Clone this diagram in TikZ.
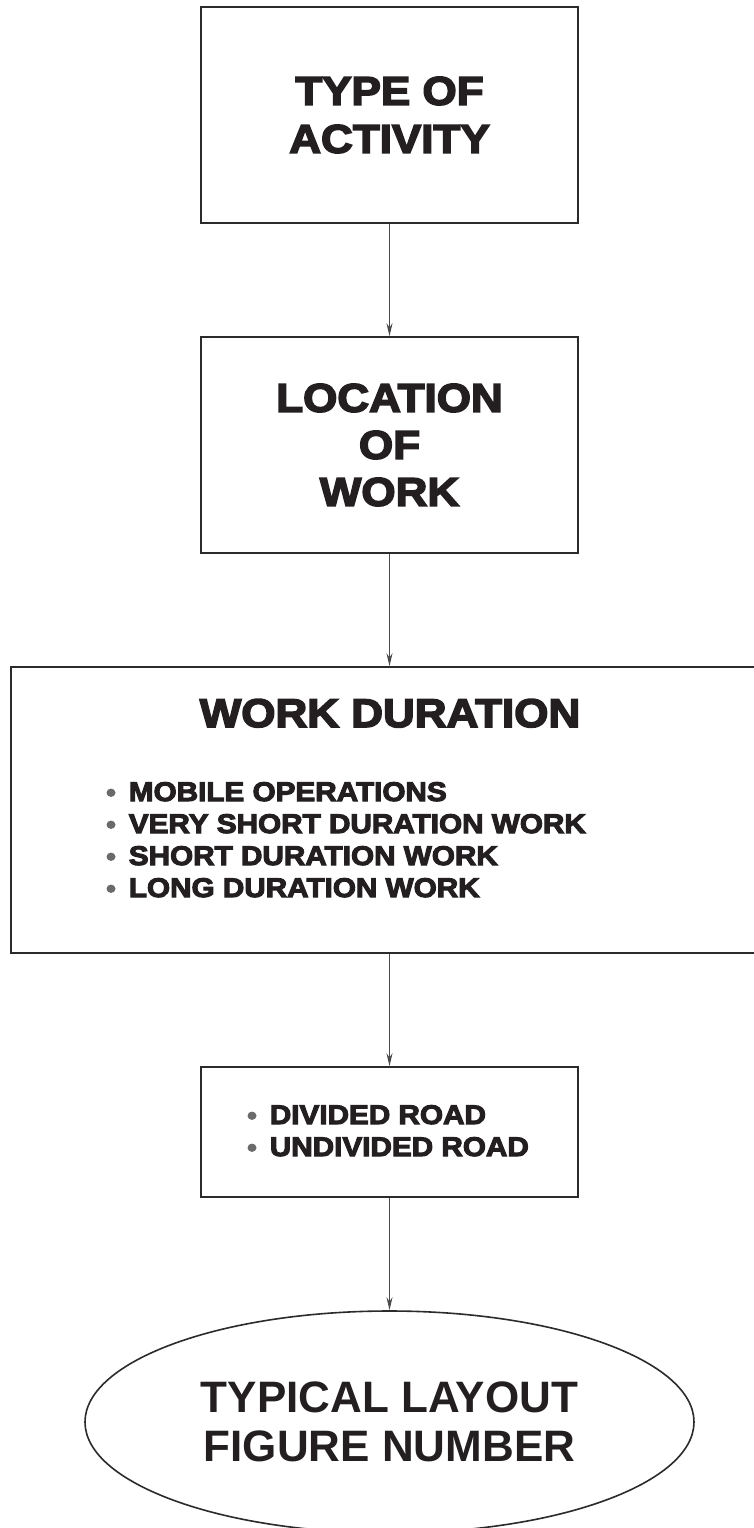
\documentclass[tikz,border=0pt]{standalone}
\usepackage{fontspec}
\setmainfont{Liberation Sans}
\newfontfamily\heavy[FakeBold=4,FakeStretch=1.1]{Liberation Sans Bold}
\newfontfamily\boldsans{Liberation Sans Bold}
\usetikzlibrary{arrows.meta,shapes.geometric}
\definecolor{ink}{HTML}{231F20}
\definecolor{edge}{HTML}{2B2B2B}
\definecolor{arrowgray}{HTML}{4A4A4A}
\definecolor{dotgray}{HTML}{6A6A6A}
\tikzset{
  boxstyle/.style={draw=edge, line width=1.6pt, rectangle, inner sep=0pt, align=center, text=ink},
  titletext/.style={font=\heavy\fontsize{40}{48}\selectfont, text=ink, inner sep=0pt},
  listtext/.style={font=\heavy\fontsize{27}{32}\selectfont, text=ink, inner sep=0pt, anchor=base west},
  flowarrow/.style={draw=arrowgray, line width=1.2pt, -{Stealth[length=13pt,width=6pt]}},
}
\newcommand{\dotmark}{{\color{dotgray}\fontsize{25}{25}\selectfont\textbullet}\hspace{13pt}}
\begin{document}
\begin{tikzpicture}[x=1pt,y=-1pt]
  \useasboundingbox[fill=white] (0,0) rectangle (754,1528);
  \node[boxstyle, minimum width=377pt, minimum height=216pt,
        font=\heavy\fontsize{40}{48}\selectfont] (act) at (389.5,115)
        {TYPE OF\\ACTIVITY};
  \node[boxstyle, minimum width=377pt, minimum height=216pt,
        font=\heavy\fontsize{40}{47}\selectfont] (loc) at (389.5,445)
        {LOCATION\\OF\\WORK};
  \node[boxstyle, minimum width=759pt, minimum height=286pt] (dur) at (390.5,810) {};
  \node[titletext, anchor=base] (durtitle) at (390,727) {WORK DURATION};
  \node[listtext] (l1) at (106,801) {\dotmark MOBILE OPERATIONS};
  \node[listtext] (l2) at (106,833) {\dotmark VERY SHORT DURATION WORK};
  \node[listtext] (l3) at (106,865) {\dotmark SHORT DURATION WORK};
  \node[listtext] (l4) at (106,897) {\dotmark LONG DURATION WORK};
  \node[boxstyle, minimum width=377pt, minimum height=130pt] (road) at (389.5,1132) {};
  \node[listtext] (r1) at (247,1124) {\dotmark DIVIDED ROAD};
  \node[listtext] (r2) at (247,1156) {\dotmark UNDIVIDED ROAD};
  \node[draw=edge, line width=1.6pt, ellipse, minimum width=609pt, minimum height=222pt,
        inner sep=0pt, align=center, text=ink,
        font=\boldsans\fontsize{44}{49}\selectfont] (fig) at (389.5,1422)
        {TYPICAL LAYOUT\\FIGURE NUMBER};
  \draw[flowarrow] (act.south) -- (loc.north);
  \draw[flowarrow] (loc.south) -- (loc.south |- dur.north);
  \draw[flowarrow] (loc.south |- dur.south) -- (road.north);
  \draw[flowarrow] (road.south) -- (fig.north);
\end{tikzpicture}
\end{document}
